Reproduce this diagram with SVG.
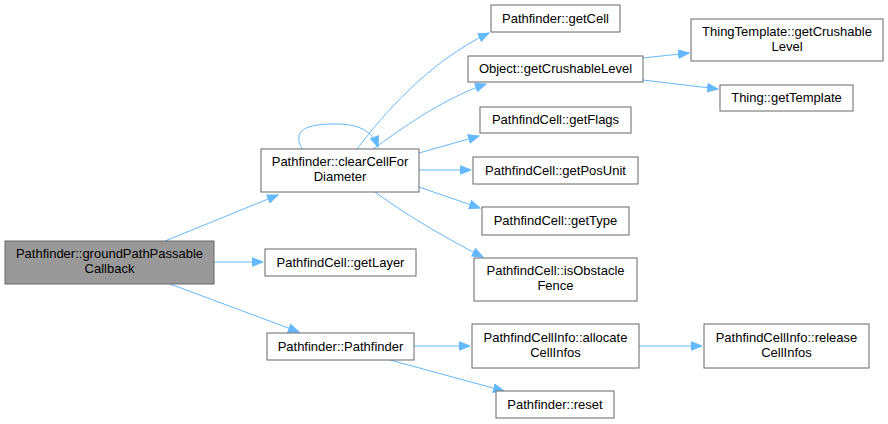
<svg xmlns="http://www.w3.org/2000/svg" width="888" height="424" viewBox="0 0 888 424">
<defs>
<marker id="ah" markerWidth="12" markerHeight="10" refX="11" refY="5" orient="auto" markerUnits="userSpaceOnUse">
<path d="M0.5,0.8 L11,5 L0.5,9.2 Z" fill="#63b8ff" stroke="#63b8ff"/>
</marker>
</defs>
<style>
.n rect{fill:#ffffff;stroke:#666666;stroke-width:1}
.n.m rect{fill:#999999}
.n text{font-family:"Liberation Sans",Arial,sans-serif;font-size:13px;fill:#000000;text-anchor:middle}
.e path{fill:none;stroke:#63b8ff;stroke-width:1;marker-end:url(#ah)}
</style>
<rect width="888" height="424" fill="#ffffff"/>
<g class="e" id="edges">
<path d="M165,241 L278,195"/>
<path d="M214,262 L263,262"/>
<path d="M170,284 L299,332"/>
<path d="M302,149 C292,130 306,124 335,124 C358,124 372,130 378,147"/>
<path d="M357,149 C382,116 428,62 489,33"/>
<path d="M373,149 C400,130 440,100 486,84"/>
<path d="M419,153 L479,136"/>
<path d="M419,170 L471,170"/>
<path d="M419,187 L480,208"/>
<path d="M375,192 C405,214 445,238 483,257"/>
<path d="M414,346 L470,346"/>
<path d="M390,360 L504,391"/>
<path d="M639,346 L702,346"/>
<path d="M643,58 L689,53"/>
<path d="M643,80 L718,89"/>
</g>
<g class="n m" id="groundPathPassableCallback"><rect x="5" y="241" width="209" height="43"/><text x="109.5" y="258">Pathfinder::groundPathPassable</text><text x="109.5" y="273">Callback</text></g>
<g class="n" id="clearCellForDiameter"><rect x="261" y="149" width="158" height="43"/><text x="340" y="166">Pathfinder::clearCellFor</text><text x="340" y="181">Diameter</text></g>
<g class="n" id="getLayer"><rect x="265" y="249" width="151" height="27"/><text x="340.5" y="267">PathfindCell::getLayer</text></g>
<g class="n" id="Pathfinder"><rect x="267" y="333" width="147" height="27"/><text x="340.5" y="351">Pathfinder::Pathfinder</text></g>
<g class="n" id="getCell"><rect x="491" y="5" width="129" height="27"/><text x="555.5" y="23">Pathfinder::getCell</text></g>
<g class="n" id="getCrushableLevel"><rect x="468" y="56" width="175" height="26"/><text x="555.5" y="73">Object::getCrushableLevel</text></g>
<g class="n" id="ThingTemplateGetCrushableLevel"><rect x="691" y="19" width="192" height="42"/><text x="787" y="36">ThingTemplate::getCrushable</text><text x="787" y="51">Level</text></g>
<g class="n" id="getTemplate"><rect x="720" y="85" width="133" height="26"/><text x="786.5" y="102">Thing::getTemplate</text></g>
<g class="n" id="getFlags"><rect x="480" y="107" width="151" height="26"/><text x="555.5" y="124">PathfindCell::getFlags</text></g>
<g class="n" id="getPosUnit"><rect x="473" y="157" width="165" height="27"/><text x="555.5" y="175">PathfindCell::getPosUnit</text></g>
<g class="n" id="getType"><rect x="482" y="207" width="147" height="28"/><text x="555.5" y="225">PathfindCell::getType</text></g>
<g class="n" id="isObstacleFence"><rect x="474" y="258" width="163" height="43"/><text x="555.5" y="275">PathfindCell::isObstacle</text><text x="555.5" y="290">Fence</text></g>
<g class="n" id="allocateCellInfos"><rect x="472" y="324" width="167" height="44"/><text x="555.5" y="342">PathfindCellInfo::allocate</text><text x="555.5" y="357">CellInfos</text></g>
<g class="n" id="releaseCellInfos"><rect x="704" y="324" width="165" height="44"/><text x="786.5" y="342">PathfindCellInfo::release</text><text x="786.5" y="357">CellInfos</text></g>
<g class="n" id="reset"><rect x="496" y="391" width="118" height="27"/><text x="555" y="409">Pathfinder::reset</text></g>
</svg>
